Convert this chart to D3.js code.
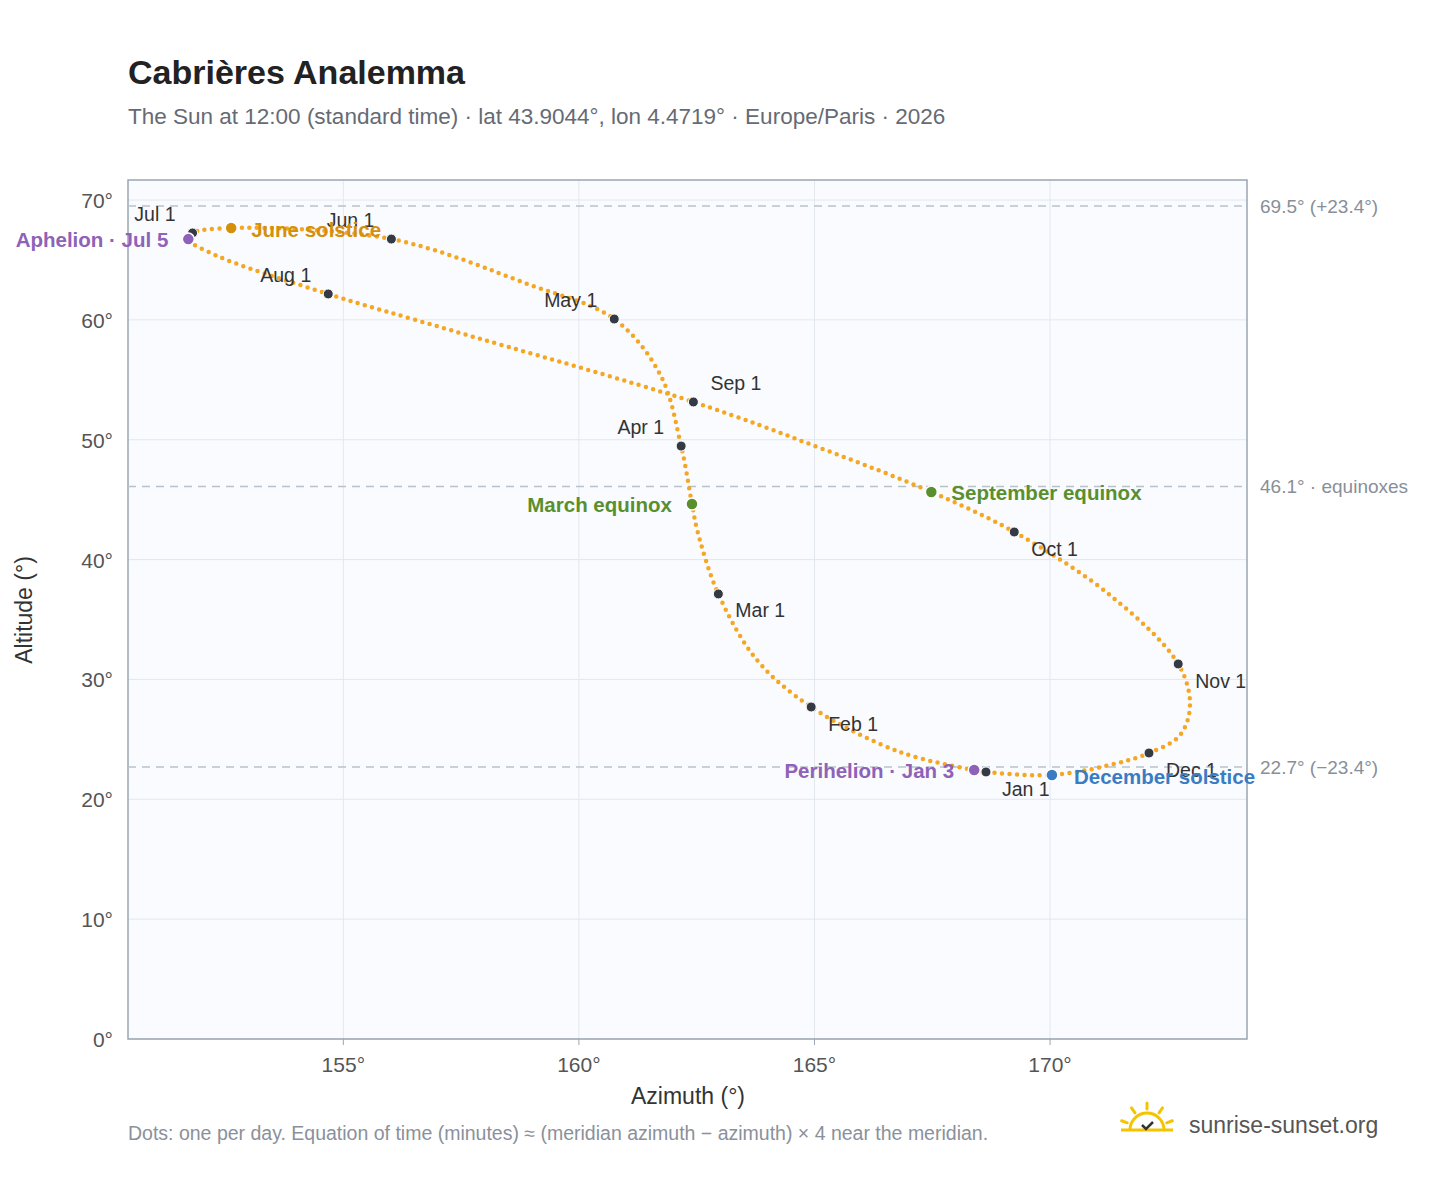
<!DOCTYPE html>
<html><head><meta charset="utf-8">
<script src="https://cdn.jsdelivr.net/npm/d3@7/dist/d3.min.js"></script>
<style>body{margin:0;background:#fff;font-family:"Liberation Sans",Arial,sans-serif}</style>
</head><body><svg id="c" width="1448" height="1188"></svg>
<script>
// Path anchor points (azimuth °, altitude °)
const pathAz  = [168.64,168.39,166.82,164.93,163.78,162.96,162.51,162.40,162.17,161.73,160.75,158.97,156.02,152.62,151.80,151.71,152.28,154.68,157.27,162.43,165.12,167.48,169.24,171.27,172.72,172.97,172.76,172.10,171.27,170.04];
const pathAlt = [22.28,22.44,23.94,27.70,31.62,37.13,42.47,44.64,49.47,55.40,60.07,62.91,66.74,67.66,67.25,66.74,65.41,62.16,59.15,53.15,49.31,45.64,42.30,37.04,31.29,27.87,25.36,23.86,22.86,22.03];
const months = ["Jan 1","Feb 1","Mar 1","Apr 1","May 1","Jun 1","Jul 1","Aug 1","Sep 1","Oct 1","Nov 1","Dec 1"];
const monthAz  = [168.64,164.93,162.96,162.17,160.75,156.02,151.80,154.68,162.43,169.24,172.72,172.10];
const monthAlt = [22.28,27.70,37.13,49.47,60.07,66.74,67.25,62.16,53.15,42.30,31.29,23.86];
const events = ["June solstice","Aphelion · Jul 5","March equinox","September equinox","December solstice","Perihelion · Jan 3"];
const eventAz  = [152.62,151.71,162.40,167.48,170.04,168.39];
const eventAlt = [67.66,66.74,44.64,45.64,22.03,22.44];
const eventColor = ["#d4900a","#8e62b8","#5a8f2e","#5a8f2e","#3a7cc4","#8e62b8"];
const refLines = [69.5,46.1,22.7];
const refLabels = ["69.5° (+23.4°)","46.1° · equinoxes","22.7° (−23.4°)"];
const xTicks=[155,160,165,170], yTicks=[0,10,20,30,40,50,60,70];

const svg=d3.select("#c");
const L=128,R=1247,T=180,B=1039;
const x=d3.scaleLinear().domain([150.43,174.18]).range([L,R]);
const y=d3.scaleLinear().domain([0,71.67]).range([B,T]);

svg.append("text").attr("x",128).attr("y",84).attr("font-size",34).attr("font-weight","bold").attr("fill","#222").text("Cabrières Analemma");
svg.append("text").attr("x",128).attr("y",124).attr("font-size",22.5).attr("fill","#666a73").text("The Sun at 12:00 (standard time) · lat 43.9044°, lon 4.4719° · Europe/Paris · 2026");

svg.append("rect").attr("x",L).attr("y",T).attr("width",R-L).attr("height",B-T).attr("fill","#f9fbfe");
const g=svg.append("g");
xTicks.forEach(t=>g.append("line").attr("x1",x(t)).attr("x2",x(t)).attr("y1",T).attr("y2",B).attr("stroke","#e3e8ee"));
yTicks.forEach(t=>g.append("line").attr("x1",L).attr("x2",R).attr("y1",y(t)).attr("y2",y(t)).attr("stroke","#e3e8ee"));
svg.append("rect").attr("x",L).attr("y",T).attr("width",R-L).attr("height",B-T).attr("fill","none").attr("stroke","#9aa5b1").attr("stroke-width",1.5);

refLines.forEach((v,i)=>{
  svg.append("line").attr("x1",L).attr("x2",R).attr("y1",y(v)).attr("y2",y(v)).attr("stroke","#b8c2cd").attr("stroke-width",1.5).attr("stroke-dasharray","8 6");
  svg.append("text").attr("x",1260).attr("y",y(v)+7).attr("font-size",19).attr("fill","#888f99").text(refLabels[i]);
});

xTicks.forEach(t=>{
  svg.append("line").attr("x1",x(t)).attr("x2",x(t)).attr("y1",B).attr("y2",B+6).attr("stroke","#9aa5b1");
  svg.append("text").attr("x",x(t)).attr("y",B+33).attr("text-anchor","middle").attr("font-size",21).attr("fill","#555").text(t+"°");
});
yTicks.forEach(t=>{
  svg.append("text").attr("x",113).attr("y",y(t)+8).attr("text-anchor","end").attr("font-size",21).attr("fill","#555").text(t+"°");
});
svg.append("text").attr("x",688).attr("y",1104).attr("text-anchor","middle").attr("font-size",23).attr("fill","#333").text("Azimuth (°)");
svg.append("text").attr("transform","translate(32,610) rotate(-90)").attr("text-anchor","middle").attr("font-size",23).attr("fill","#333").text("Altitude (°)");

const pts=pathAz.map((a,i)=>[x(a),y(pathAlt[i])]);
svg.append("path").attr("d",d3.line().curve(d3.curveCatmullRomClosed.alpha(0.5))(pts))
  .attr("fill","none").attr("stroke","#f5a623").attr("stroke-width",4.5).attr("stroke-linecap","round").attr("stroke-dasharray","0 7.5");

const off=[[16,24],[17,24],[17,23],[-17,-12],[-17,-12],[-17,-12],[-17,-12],[-17,-12],[17,-12],[17,24],[17,24],[17,24]];
months.forEach((m,i)=>{
  svg.append("circle").attr("cx",x(monthAz[i])).attr("cy",y(monthAlt[i])).attr("r",5).attr("fill","#333a44").attr("stroke","#fff").attr("stroke-width",1);
  svg.append("text").attr("x",x(monthAz[i])+off[i][0]).attr("y",y(monthAlt[i])+off[i][1]).attr("font-size",19.5).attr("fill","#333")
    .attr("text-anchor",off[i][0]<0?"end":"start").text(m);
});
const eoff=[[20,9],[-20,8],[-20,8],[20,8],[22,9],[-20,8]];
events.forEach((e,i)=>{
  svg.append("circle").attr("cx",x(eventAz[i])).attr("cy",y(eventAlt[i])).attr("r",6).attr("fill",eventColor[i]).attr("stroke","#fff").attr("stroke-width",1.5);
  svg.append("text").attr("x",x(eventAz[i])+eoff[i][0]).attr("y",y(eventAlt[i])+eoff[i][1]).attr("font-size",20.5).attr("font-weight","bold")
    .attr("fill",eventColor[i]).attr("text-anchor",eoff[i][0]<0?"end":"start").text(e);
});

svg.append("text").attr("x",128).attr("y",1140).attr("font-size",19.5).attr("fill","#8a919b").text("Dots: one per day. Equation of time (minutes) ≈ (meridian azimuth − azimuth) × 4 near the meridian.");
const lg=svg.append("g").attr("transform","translate(1147,1125)");
lg.append("path").attr("d","M-17,5 A17,17 0 0 1 17,5").attr("fill","none").attr("stroke","#f5c400").attr("stroke-width",3);
[-70,-35,0,35,70].forEach(a=>{const r=a*Math.PI/180;lg.append("line").attr("x1",Math.sin(r)*21).attr("y1",-Math.cos(r)*21+5).attr("x2",Math.sin(r)*27).attr("y2",-Math.cos(r)*27+5).attr("stroke","#f5c400").attr("stroke-width",3).attr("stroke-linecap","round");});
lg.append("line").attr("x1",-26).attr("x2",26).attr("y1",5).attr("y2",5).attr("stroke","#f5c400").attr("stroke-width",3);
lg.append("path").attr("d","M-5,0 L-1,4 L6,-3").attr("fill","none").attr("stroke","#333").attr("stroke-width",2.5);
svg.append("text").attr("x",1189).attr("y",1133).attr("font-size",23).attr("fill","#555").text("sunrise-sunset.org");
</script></body></html>
